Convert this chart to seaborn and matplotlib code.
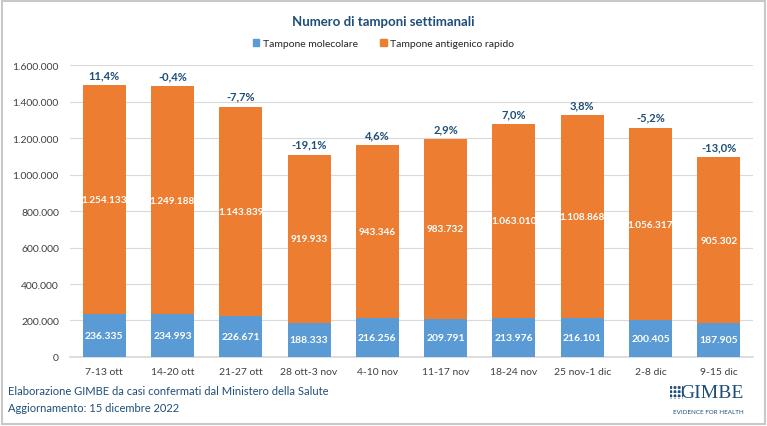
import pandas as pd
import numpy as np
import seaborn as sns
import matplotlib.pyplot as plt
from matplotlib.patches import Rectangle

# weekly data
settimane = ['7-13 ott', '14-20 ott', '21-27 ott', '28 ott-3 nov', '4-10 nov',
             '11-17 nov', '18-24 nov', '25 nov-1 dic', '2-8 dic', '9-15 dic']
molecolare = [236335, 234993, 226671, 188333, 216256, 209791, 213976, 216101, 200405, 187905]
antigenico = [1254133, 1249188, 1143839, 919933, 943346, 983732, 1063010, 1108868, 1056317, 905302]
variazione = ['11,4%', '-0,4%', '-7,7%', '-19,1%', '4,6%', '2,9%', '7,0%', '3,8%', '-5,2%', '-13,0%']

df = pd.DataFrame({'Settimana': settimane, 'Molecolare': molecolare, 'Antigenico': antigenico})
df['Totale'] = df['Molecolare'] + df['Antigenico']

def fmt(v):
    return f'{int(v):,}'.replace(',', '.')

sns.set_theme(style="white")
plt.rcParams['font.family'] = ['Lato', 'DejaVu Sans']

blue = '#5B9BD5'
orange = '#ED7D31'
navy = '#1F4E79'
bar_w = 0.63

fig = plt.figure(figsize=(7.67, 4.27), dpi=100)
ax = fig.add_axes([0.0913, 0.1616, 0.8904, 0.6838])

# stacked bars: total (orange) then molecular (blue) on top of it
sns.barplot(data=df, x='Settimana', y='Totale', color=orange, width=bar_w, ax=ax,
            saturation=1, zorder=3)
sns.barplot(data=df, x='Settimana', y='Molecolare', color=blue, width=bar_w, ax=ax,
            saturation=1, zorder=3)
# make sure the bar width is what we want
for p in ax.patches:
    c = p.get_x() + p.get_width() / 2
    p.set_width(bar_w)
    p.set_x(c - bar_w / 2)
    p.set_linewidth(0)

ax.set_xlim(-0.5, 9.5)
ax.set_ylim(0, 1600000)
ax.set_yticks(np.arange(0, 1600001, 200000))
ax.set_yticklabels([fmt(t) for t in ax.get_yticks()], fontsize=7.5, color='#404040')
ax.tick_params(axis='x', labelsize=7.5, labelcolor='#404040', length=0, pad=7)
ax.tick_params(axis='y', length=0, pad=8)
ax.yaxis.grid(True, color='#D9D9D9', linewidth=0.8, zorder=0)
ax.set_axisbelow(True)
ax.set_xlabel('')
ax.set_ylabel('')
for s in ['top', 'right', 'left']:
    ax.spines[s].set_visible(False)
ax.spines['bottom'].set_color('#D9D9D9')

# labels
for i, row in df.iterrows():
    ax.text(i, row['Molecolare'] / 2, fmt(row['Molecolare']), ha='center', va='center',
            color='white', fontsize=7.5, fontweight='bold', zorder=4)
    ax.text(i, row['Molecolare'] + row['Antigenico'] / 2, fmt(row['Antigenico']),
            ha='center', va='center', color='white', fontsize=7.2, fontweight='bold', zorder=4)
    ax.text(i, row['Totale'] + 28000, variazione[i], ha='center', va='bottom',
            color=navy, fontsize=8, fontweight='bold', zorder=4)

# title and legend
fig.text(0.5, 0.948, 'Numero di tamponi settimanali', ha='center', va='center',
         fontsize=9.5, fontweight='bold', color=navy)
handles = [Rectangle((0, 0), 1, 1, color=blue), Rectangle((0, 0), 1, 1, color=orange)]
fig.legend(handles, ['Tampone molecolare', 'Tampone antigenico rapido'], loc='center',
           bbox_to_anchor=(0.5, 0.896), ncol=2, frameon=False, fontsize=7.5,
           handlelength=0.6, handleheight=0.6, columnspacing=2.2, handletextpad=0.3)

# footer
fig.text(0.011, 0.082, 'Elaborazione GIMBE da casi confermati dal Ministero della Salute',
         fontsize=8, color=navy, va='center')
fig.text(0.011, 0.043, 'Aggiornamento: 15 dicembre 2022', fontsize=8, color=navy, va='center')
fig.text(0.970, 0.078, 'GIMBE', fontsize=14, color=navy, ha='right', va='center',
         family=['Liberation Serif', 'DejaVu Serif'])
fig.text(0.970, 0.035, 'EVIDENCE FOR HEALTH', fontsize=4.5, color=navy, ha='right', va='center')
# small logo mark
fig.patches.append(Rectangle((0.874, 0.063), 0.016, 0.03, transform=fig.transFigure,
                             facecolor=navy, edgecolor='white', hatch='++++', linewidth=0))

# outer frame
fig.patches.append(Rectangle((0.002, 0.004), 0.996, 0.992, transform=fig.transFigure,
                             fill=False, edgecolor='#C8C8C8', linewidth=1.5))

fig.savefig('out.png', dpi=100)
